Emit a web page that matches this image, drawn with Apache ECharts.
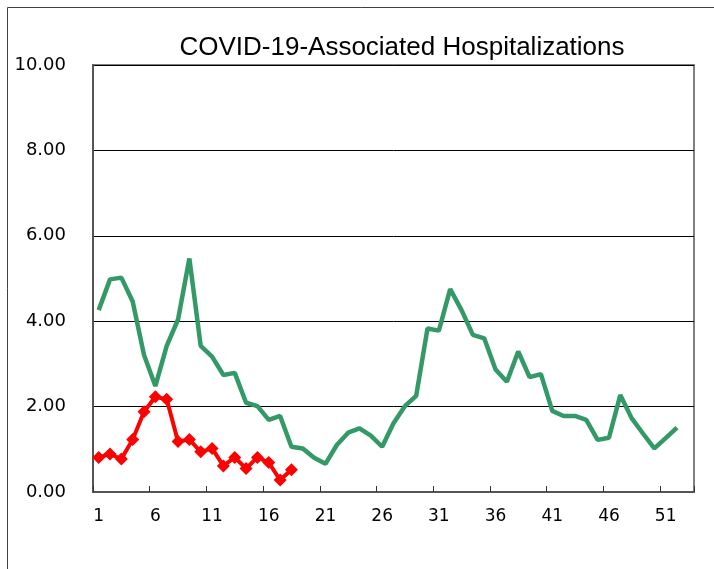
<!DOCTYPE html>
<html>
<head>
<meta charset="utf-8">
<script src="https://cdn.jsdelivr.net/npm/echarts@6/dist/echarts.min.js"></script>
<style>
html,body{margin:0;padding:0;background:#fff;}
#chart{width:714px;height:569px;}
</style>
</head>
<body>
<div id="chart"></div>
<script>
// Week numbers (53 categories on the axis)
const weeks = [];
for (let w = 1; w <= 53; w++) weeks.push(String(w));

const titleText = 'COVID-19-Associated Hospitalizations';

// Green series: previous season (52 weeks)
const greenValues = [
  4.26, 4.98, 5.02, 4.46, 3.21, 2.48, 3.42, 4.04, 5.47, 3.42,
  3.17, 2.74, 2.79, 2.09, 2.01, 1.69, 1.78, 1.06, 1.02, 0.80,
  0.66, 1.10, 1.39, 1.49, 1.32, 1.06, 1.61, 2.01, 2.25, 3.83,
  3.78, 4.75, 4.26, 3.68, 3.60, 2.87, 2.58, 3.29, 2.69, 2.76,
  1.90, 1.78, 1.78, 1.69, 1.22, 1.27, 2.27, 1.73, 1.37, 1.02,
  1.26, 1.51
];

// Red series: current season (18 weeks)
const redValues = [
  0.81, 0.89, 0.77, 1.23, 1.88, 2.23, 2.17, 1.18, 1.23, 0.94,
  1.02, 0.61, 0.81, 0.55, 0.81, 0.69, 0.28, 0.52
];

const yMin = 0, yMax = 10, yStep = 2;

const chart = echarts.init(document.getElementById('chart'), null, {renderer: 'canvas'});
chart.setOption({
  animation: false,
  backgroundColor: '#ffffff',
  title: {
    text: titleText,
    left: 397,
    top: 30,
    textAlign: 'center',
    textStyle: {
      fontFamily: 'Liberation Sans, Arial, sans-serif',
      fontSize: 26,
      fontWeight: 'normal',
      color: '#000'
    }
  },
  graphic: [{
    type: 'rect',
    shape: {x: 7.5, y: 7.5, width: 900, height: 900},
    style: {fill: 'none', stroke: '#404040', lineWidth: 1},
    silent: true,
    z: -1
  }],
  grid: {
    left: 93, right: 20, top: 65, bottom: 77,
    show: true,
    borderColor: '#808080',
    borderWidth: 2,
    containLabel: false
  },
  xAxis: {
    type: 'category',
    data: weeks,
    boundaryGap: true,
    axisLine: {show: true, lineStyle: {color: '#555', width: 2}},
    axisTick: {show: true, inside: true, length: 6, interval: 4, lineStyle: {color: '#333', width: 1}},
    axisLabel: {
      interval: 4,
      margin: 16,
      fontFamily: 'DejaVu Sans, sans-serif',
      fontSize: 17,
      color: '#000'
    },
    splitLine: {show: false}
  },
  yAxis: {
    type: 'value',
    min: yMin, max: yMax, interval: yStep,
    axisLine: {show: true, lineStyle: {color: '#555', width: 2}},
    axisTick: {show: false},
    axisLabel: {
      margin: 27,
      fontFamily: 'DejaVu Sans, sans-serif',
      fontSize: 18,
      color: '#000',
      formatter: v => v.toFixed(2)
    },
    splitLine: {show: true, lineStyle: {color: '#000', width: 1}}
  },
  series: [
    {
      name: 'Previous season',
      type: 'line',
      data: greenValues,
      showSymbol: false,
      symbol: 'none',
      lineStyle: {color: '#339966', width: 4.5},
      itemStyle: {color: '#339966'},
      z: 2
    },
    {
      name: 'Current season',
      type: 'line',
      data: redValues,
      symbol: 'diamond',
      symbolSize: 13,
      showAllSymbol: true,
      lineStyle: {color: '#ff0000', width: 4},
      itemStyle: {color: '#ff0000'},
      z: 3
    }
  ]
});
</script>
</body>
</html>
